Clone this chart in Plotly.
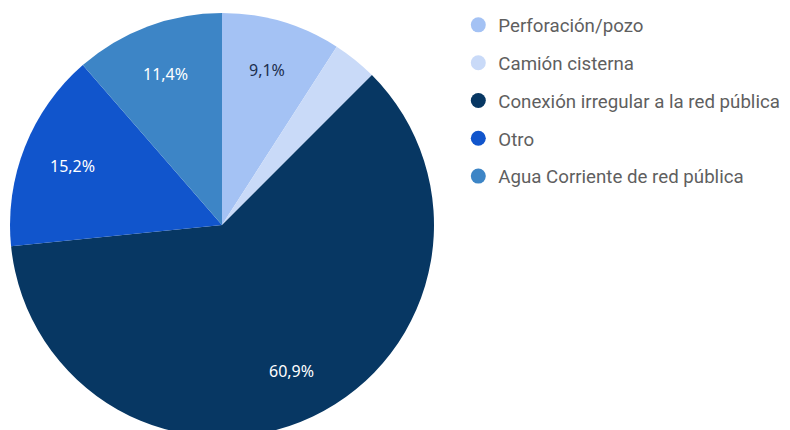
import numpy as np
import plotly.graph_objects as go

labels = ['Perforación/pozo', 'Camión cisterna', 'Conexión irregular a la red pública',
          'Otro', 'Agua Corriente de red pública']
values = [9.1, 3.4, 60.9, 15.2, 11.4]
colors = ['#a4c2f4', '#c9daf8', '#073763', '#1155cc', '#3d85c6']

# figure geometry (paper coords), pie sits in the left part
W, H = 790, 450
mt, mb = 5, 21
pie_x = [2 / W, 426 / W]

fig = go.Figure()
fig.add_trace(go.Pie(
    labels=labels, values=values,
    sort=False, direction='clockwise', rotation=0,
    marker=dict(colors=colors, line=dict(width=0)),
    textinfo='none',
    showlegend=False,
    domain=dict(x=pie_x, y=[0, 1]),
    hoverinfo='label+percent',
))

# slice labels on the bisector at ~0.76 of the radius (google-sheets style)
ph = H - mt - mb
cx = (pie_x[0] + pie_x[1]) / 2
rx = (pie_x[1] - pie_x[0]) / 2
ry = 0.5 * (pie_x[1] - pie_x[0]) * W / ph
total = sum(values)
start = 0
for i, v in enumerate(values):
    mid = (start + v / 2) / total * 2 * np.pi
    start += v
    if v / total < 0.05:
        continue
    txt = f"{v:.1f}%".replace('.', ',')
    col = '#1c2f4f' if i in (0, 1) else 'white'
    fig.add_annotation(
        x=cx + 0.76 * rx * np.sin(mid), y=0.5 + 0.76 * ry * np.cos(mid),
        xref='paper', yref='paper', xanchor='center', yanchor='middle',
        text=txt, showarrow=False,
        font=dict(family='Noto Sans', size=16, color=col),
    )

# circle legend entries
for i, lab in enumerate(labels):
    fig.add_trace(go.Scatter(
        x=[None], y=[None], mode='markers', name=lab,
        marker=dict(symbol='circle', size=15, color=colors[i]),
        legendgroup=lab, showlegend=True,
    ))

fig.update_layout(
    width=W, height=H,
    margin=dict(l=0, r=0, t=mt, b=mb, autoexpand=False),
    paper_bgcolor='white', plot_bgcolor='white',
    xaxis=dict(visible=False), yaxis=dict(visible=False),
    legend=dict(
        x=0.570, y=1.016, xanchor='left', yanchor='top',
        font=dict(family='Roboto', size=18.7, color='#5f5f5f'),
        tracegroupgap=10.5, itemwidth=30,
    ),
)

fig.write_html("out.html")
